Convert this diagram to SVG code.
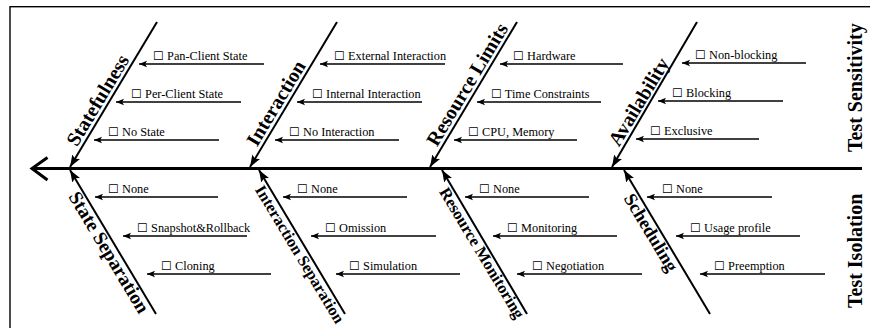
<svg xmlns="http://www.w3.org/2000/svg" width="870" height="328" viewBox="0 0 870 328">
<style>
.frame{fill:none;stroke:#000;stroke-width:1.4}
.spine{stroke:#000;stroke-width:3;fill:none}
.bone{stroke:#000;stroke-width:2;fill:none;marker-end:url(#big)}
.br{stroke:#000;stroke-width:1.4;fill:none;marker-end:url(#small)}
.lbl{font-family:"Liberation Serif","Times New Roman",serif;font-size:12.3px;fill:#000}
.cat{font-family:"Liberation Serif","Times New Roman",serif;font-weight:bold;font-size:20px;fill:#000}
</style>
<defs>
<marker id="big" markerUnits="userSpaceOnUse" markerWidth="14" markerHeight="10" refX="12" refY="5" orient="auto"><path d="M0,0.5 L12,5 L0,9.5 L2.5,5 Z" fill="#000"/></marker>
<marker id="small" markerUnits="userSpaceOnUse" markerWidth="10" markerHeight="8" refX="8" refY="4" orient="auto"><path d="M0,0.8 L8,4 L0,7.2 L1.8,4 Z" fill="#000"/></marker>
</defs>
<rect class="frame" x="10" y="6.7" width="900" height="400"/>
<g id="connectors">
<line class="spine" x1="33" y1="168.5" x2="862" y2="168.5"/>
<polyline class="spine" points="47.5,157.5 32,168.5 47.5,180" stroke-width="2.6"/>
</g>
<g id="statefulness">
<line class="bone" x1="157" y1="22" x2="70" y2="167"/>
<text class="cat" transform="translate(77.1,147.5) rotate(-59)">Statefulness</text>
<line class="br" x1="264" y1="64" x2="139" y2="64"/><text class="lbl" x="153" y="60">☐ Pan-Client State</text>
<line class="br" x1="241" y1="102" x2="116" y2="102"/><text class="lbl" x="131" y="98">☐ Per-Client State</text>
<line class="br" x1="219" y1="140" x2="94" y2="140"/><text class="lbl" x="108" y="136">☐ No State</text>
</g>
<g id="interaction">
<line class="bone" x1="337" y1="22" x2="250" y2="167"/>
<text class="cat" transform="translate(257.1,147.5) rotate(-59)">Interaction</text>
<line class="br" x1="445" y1="64" x2="320" y2="64"/><text class="lbl" x="334" y="60">☐ External Interaction</text>
<line class="br" x1="422" y1="102" x2="297" y2="102"/><text class="lbl" x="312" y="98">☐ Internal Interaction</text>
<line class="br" x1="399" y1="140" x2="275" y2="140"/><text class="lbl" x="289" y="136">☐ No Interaction</text>
</g>
<g id="resource-limits">
<line class="bone" x1="517" y1="22" x2="430" y2="167"/>
<text class="cat" transform="translate(437.1,147.5) rotate(-59)">Resource Limits</text>
<line class="br" x1="623" y1="64" x2="500" y2="64"/><text class="lbl" x="513" y="60">☐ Hardware</text>
<line class="br" x1="601" y1="102" x2="477" y2="102"/><text class="lbl" x="491" y="98">☐ Time Constraints</text>
<line class="br" x1="577" y1="140" x2="454" y2="140"/><text class="lbl" x="468" y="136">☐ CPU, Memory</text>
</g>
<g id="availability">
<line class="bone" x1="697" y1="22" x2="612" y2="167"/>
<text class="cat" transform="translate(619.1,147.5) rotate(-59)">Availability</text>
<line class="br" x1="806" y1="63" x2="682" y2="63"/><text class="lbl" x="695" y="59">☐ Non-blocking</text>
<line class="br" x1="783" y1="101" x2="658" y2="101"/><text class="lbl" x="672" y="97">☐ Blocking</text>
<line class="br" x1="759" y1="139" x2="636" y2="139"/><text class="lbl" x="650" y="135">☐ Exclusive</text>
</g>
<g id="state-separation">
<line class="bone" x1="156" y1="314" x2="70" y2="170"/>
<text class="cat" transform="translate(68,196.5) rotate(59)" style="font-size:19.5px">State Separation</text>
<line class="br" x1="218" y1="197" x2="95" y2="197"/><text class="lbl" x="108" y="193">☐ None</text>
<line class="br" x1="247" y1="236" x2="123" y2="236"/><text class="lbl" x="137" y="232">☐ Snapshot&amp;Rollback</text>
<line class="br" x1="271" y1="274" x2="147" y2="274"/><text class="lbl" x="161" y="270">☐ Cloning</text>
</g>
<g id="interaction-separation">
<line class="bone" x1="345" y1="314" x2="259" y2="170"/>
<text class="cat" transform="translate(254.6,189.5) rotate(59)" style="font-size:16.3px">Interaction Separation</text>
<line class="br" x1="407" y1="197" x2="283" y2="197"/><text class="lbl" x="297" y="193">☐ None</text>
<line class="br" x1="436" y1="236" x2="311" y2="236"/><text class="lbl" x="325" y="232">☐ Omission</text>
<line class="br" x1="460" y1="274" x2="336" y2="274"/><text class="lbl" x="349" y="270">☐ Simulation</text>
</g>
<g id="resource-monitoring">
<line class="bone" x1="527" y1="314" x2="442" y2="170"/>
<text class="cat" transform="translate(438.8,191.7) rotate(59)" style="font-size:16.5px">Resource Monitoring</text>
<line class="br" x1="589" y1="197" x2="465" y2="197"/><text class="lbl" x="479" y="193">☐ None</text>
<line class="br" x1="617" y1="236" x2="493" y2="236"/><text class="lbl" x="507" y="232">☐ Monitoring</text>
<line class="br" x1="642" y1="274" x2="517" y2="274"/><text class="lbl" x="532" y="270">☐ Negotiation</text>
</g>
<g id="scheduling">
<line class="bone" x1="710" y1="314" x2="624" y2="170"/>
<text class="cat" transform="translate(623.3,198.3) rotate(59)" style="font-size:18.5px">Scheduling</text>
<line class="br" x1="772" y1="197" x2="647" y2="197"/><text class="lbl" x="662" y="193">☐ None</text>
<line class="br" x1="800" y1="236" x2="676" y2="236"/><text class="lbl" x="690" y="232">☐ Usage profile</text>
<line class="br" x1="825" y1="274" x2="700" y2="274"/><text class="lbl" x="714" y="270">☐ Preemption</text>
</g>
<g id="test-sensitivity">
<text class="cat" transform="translate(862,152) rotate(-90)">Test Sensitivity</text>
</g>
<g id="test-isolation">
<text class="cat" transform="translate(862,308) rotate(-90)">Test Isolation</text>
</g>
</svg>
